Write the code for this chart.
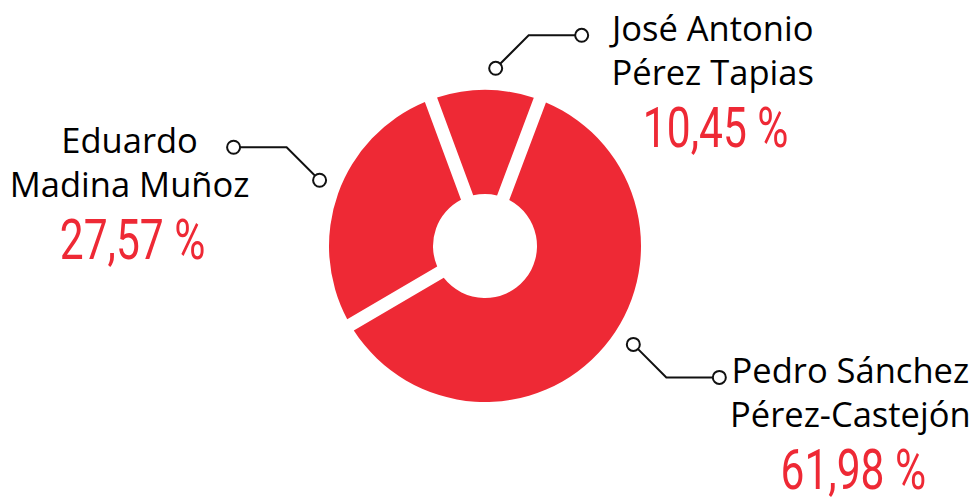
<!DOCTYPE html>
<html>
<head>
<meta charset="utf-8">
<script src="https://cdn.jsdelivr.net/npm/d3@7"></script>
<style>
  body { margin: 0; background: #fff; }
  .name { font-family: "Open Sans", sans-serif; fill: #000; }
  .pct { font-family: Roboto, "Open Sans", sans-serif; font-weight: 400; fill: #ee2935; }
</style>
</head>
<body>
<div id="chart"></div>
<script>
// candidates, in the order the slices run clockwise from the top
const firstNames = ["José Antonio", "Pedro Sánchez", "Eduardo"];
const lastNames = ["Pérez Tapias", "Pérez-Castejón", "Madina Muñoz"];
const shares = [10.45, 61.98, 27.57];
const shareLabels = ["10,45 %", "61,98 %", "27,57 %"];

function drawDonut(id) {
  const w = 977;
  const h = 502;
  const cx = 485;
  const cy = 246;
  const outer = 156;
  const inner = 52;
  const gap = 13;
  const start = -0.354; // José sits just left of twelve o'clock

  const svg = d3
    .select(`#${id}`)
    .append("svg")
    .attr("width", w)
    .attr("height", h);

  const data = shares.map((v, i) => ({
    first: firstNames[i],
    last: lastNames[i],
    value: v,
    label: shareLabels[i],
  }));

  const pie = d3
    .pie()
    .sort(null)
    .value((d) => d.value)
    .startAngle(start)
    .endAngle(start + 2 * Math.PI)
    .padAngle(gap / outer);

  const arc = d3
    .arc()
    .innerRadius(inner)
    .outerRadius(outer)
    .padRadius(outer);

  const g = svg.append("g").attr("transform", `translate(${cx},${cy})`);

  const arcs = pie(data);

  g.selectAll("path")
    .data(arcs)
    .enter()
    .append("path")
    .attr("d", arc)
    .attr("fill", "#ee2935");

  // where along each slice the leader starts (0 = start, 1 = end)
  const leaderAt = [0.58, 0.47, 0.52];
  const leaderR = 178;
  const diag = 33;
  const run = 53;

  arcs.forEach((a, i) => {
    const ang = a.startAngle + (a.endAngle - a.startAngle) * leaderAt[i];
    const x0 = leaderR * Math.sin(ang);
    const y0 = -leaderR * Math.cos(ang);
    const sx = Math.sin(ang) >= 0 ? 1 : -1;
    const sy = Math.cos(ang) >= 0 ? -1 : 1;
    const x1 = x0 + sx * diag;
    const y1 = y0 + sy * diag;
    const x2 = x1 + sx * run;
    const y2 = y1;

    g.append("polyline")
      .attr("points", [[x0, y0], [x1, y1], [x2, y2]].map((p) => p.join(",")).join(" "))
      .attr("fill", "none")
      .attr("stroke", "#111")
      .attr("stroke-width", 2);

    [[x0, y0], [x2, y2]].forEach((p) => {
      g.append("circle")
        .attr("cx", p[0])
        .attr("cy", p[1])
        .attr("r", 6.5)
        .attr("fill", "#fff")
        .attr("stroke", "#111")
        .attr("stroke-width", 2);
    });

    // label block centred beside the end of the leader
    const tx = x2 + sx * (sx > 0 ? 131 : 104);
    const ty = y2 + 6;
    const t = g.append("g").attr("transform", `translate(${tx},${ty})`);

    t.append("text")
      .attr("class", "name")
      .attr("text-anchor", "middle")
      .attr("font-size", 34.5)
      .text(a.data.first);
    t.append("text")
      .attr("class", "name")
      .attr("text-anchor", "middle")
      .attr("font-size", 34.5)
      .attr("y", 44)
      .text(a.data.last);
    // condensed look for the percentages
    t.append("text")
      .attr("class", "pct")
      .attr("text-anchor", "middle")
      .attr("font-size", 56)
      .attr("transform", "translate(3,106) scale(0.76,1)")
      .text(a.data.label);
  });
}

document.addEventListener("DOMContentLoaded", function () {
  drawDonut("chart");
});
</script>
</body>
</html>
